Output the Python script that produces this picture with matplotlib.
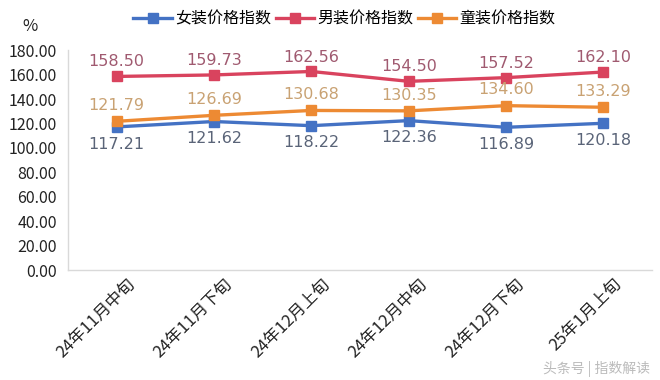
import matplotlib.pyplot as plt
import matplotlib.transforms as mtransforms
import numpy as np

plt.rcParams['font.family'] = ['Noto Sans CJK SC', 'DejaVu Sans']

periods = ["24年11月中旬", "24年11月下旬", "24年12月上旬", "24年12月中旬", "24年12月下旬", "25年1月上旬"]
women = [117.21, 121.62, 118.22, 122.36, 116.89, 120.18]
men = [158.50, 159.73, 162.56, 154.50, 157.52, 162.10]
kids = [121.79, 126.69, 130.68, 130.35, 134.60, 133.29]

# name, values, line colour, label colour, label offset (points)
series = [
    ("女装价格指数", women, "#4472C4", "#5A6478", -7),
    ("男装价格指数", men, "#D9435E", "#A05A70", 5),
    ("童装价格指数", kids, "#ED8A33", "#C9A273", 6),
]

fig = plt.figure(figsize=(6.6, 3.8), dpi=100)
ax = fig.add_axes([0.103, 0.289, 0.885, 0.579])
xs = np.arange(len(periods))

handles = []
for name, vals, c, lc, off in series:
    h, = ax.plot(xs, vals, color=c, linewidth=2.4, marker="s", markersize=7, label=name)
    handles.append(h)
    for x, v in zip(xs, vals):
        ax.annotate(f"{v:.2f}", (x, v), xytext=(0, off), textcoords="offset points",
                    ha="center", va="bottom" if off > 0 else "top", fontsize=11.5,
                    color=lc, family="DejaVu Sans")

ax.set_xlim(-0.5, len(periods) - 0.5)
ax.set_ylim(0, 180)
ax.set_yticks(np.arange(0, 181, 20))
ax.set_yticklabels([f"{v:.2f}" for v in np.arange(0, 181, 20)], fontsize=11.5, color="#222222")
ax.set_xticks(xs)
ax.set_xticklabels(periods, rotation=45, ha="right", rotation_mode="anchor", fontsize=12, color="#222222")
ax.tick_params(axis="y", length=0, pad=8)
ax.tick_params(axis="x", length=0, pad=4)
shift = mtransforms.ScaledTranslation(10 / 100, 0, fig.dpi_scale_trans)
for lbl in ax.get_xticklabels():
    lbl.set_transform(lbl.get_transform() + shift)
for s in ["top", "right"]:
    ax.spines[s].set_visible(False)
for s in ["left", "bottom"]:
    ax.spines[s].set_color("#D9D9D9")
    ax.spines[s].set_linewidth(1)

fig.text(0.045, 0.93, "%", fontsize=12, ha="center", va="center", color="#222222")
fig.legend(handles=handles, loc="center", bbox_to_anchor=(0.522, 0.95), ncol=3, frameon=False,
           fontsize=11.5, handlelength=2.4, columnspacing=0.3, handletextpad=0.2)
fig.text(0.985, 0.03, "头条号 | 指数解读", fontsize=10, ha="right", va="center", color="#BBBBBB")

fig.savefig("out.png")
